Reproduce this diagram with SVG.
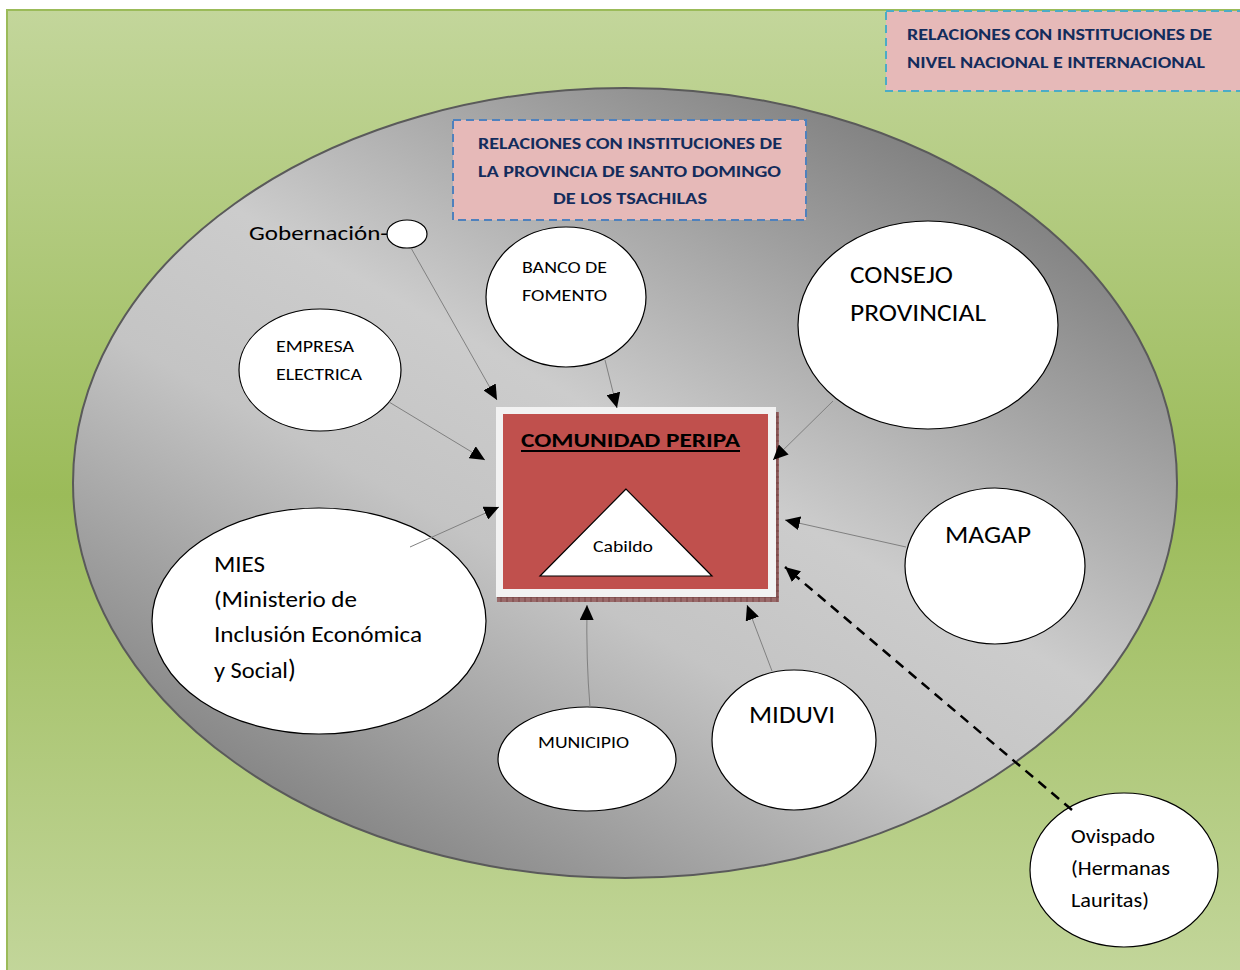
<svg xmlns="http://www.w3.org/2000/svg" width="1240" height="970" viewBox="0 0 1240 970">
<defs>
<linearGradient id="bgGreen" x1="0" y1="0" x2="0" y2="1">
<stop offset="0" stop-color="#c3d69b"/>
<stop offset="0.5" stop-color="#9bbb59"/>
<stop offset="1" stop-color="#c3d69b"/>
</linearGradient>
<linearGradient id="grayGrad" x1="0.85" y1="0.05" x2="0.15" y2="0.95">
<stop offset="0" stop-color="#767676"/>
<stop offset="0.45" stop-color="#cccccc"/>
<stop offset="0.62" stop-color="#c4c4c4"/>
<stop offset="1" stop-color="#7c7c7c"/>
</linearGradient>
<pattern id="hatch" width="6" height="6" patternUnits="userSpaceOnUse">
<rect width="6" height="6" fill="#9a6a6a"/>
<path d="M0 3H6M3 0V6" stroke="#6e3a3a" stroke-width="0.8"/>
</pattern>
<marker id="arr" markerUnits="userSpaceOnUse" markerWidth="16" markerHeight="14" refX="15" refY="7" orient="auto">
<path d="M0 0L15 7L0 14Z" fill="#000"/>
</marker>
<style>
.t{font-family:Carlito,"Open Sans","Liberation Sans",sans-serif;fill:#000}
.hd{font-family:Carlito,"Open Sans","Liberation Sans",sans-serif;font-weight:bold;fill:#132c5c;font-size:16.5px}
.node{fill:#fff;stroke:#000;stroke-width:1.2}
.conn{stroke:#808080;stroke-width:1;fill:none;marker-end:url(#arr)}
.dash{stroke:#000;stroke-width:2.5;fill:none;stroke-dasharray:10 7;marker-end:url(#arr)}
</style>
</defs>

<rect x="7" y="10" width="1240" height="970" fill="url(#bgGreen)" stroke="#9bbb59" stroke-width="2"/>

<g id="top-title">
<rect x="886" y="11" width="360" height="80" fill="#e6b9b8" stroke="#4bacc6" stroke-width="2" stroke-dasharray="8 5"/>
<text class="hd" x="907" y="40" textLength="305" lengthAdjust="spacingAndGlyphs">RELACIONES CON INSTITUCIONES DE</text>
<text class="hd" x="907" y="68" textLength="298" lengthAdjust="spacingAndGlyphs">NIVEL NACIONAL E INTERNACIONAL</text>
</g>

<ellipse id="province" cx="625" cy="483" rx="552" ry="395" fill="url(#grayGrad)" stroke="#5a5a5a" stroke-width="2"/>

<g id="province-title">
<rect x="453" y="120" width="353" height="100" fill="#e6b9b8" stroke="#4f81bd" stroke-width="2" stroke-dasharray="8 5"/>
<text class="hd" x="478" y="149" textLength="304" lengthAdjust="spacingAndGlyphs">RELACIONES CON INSTITUCIONES DE</text>
<text class="hd" x="478" y="177" textLength="303" lengthAdjust="spacingAndGlyphs">LA PROVINCIA DE SANTO DOMINGO</text>
<text class="hd" x="553" y="204" textLength="154" lengthAdjust="spacingAndGlyphs">DE LOS TSACHILAS</text>
</g>

<g id="comunidad">
<rect x="776" y="412" width="3" height="190" fill="url(#hatch)"/>
<rect x="497" y="597" width="282" height="5" fill="url(#hatch)"/>
<rect x="496" y="407" width="280" height="190" fill="#f2f2f2"/>
<rect x="503" y="414" width="265" height="175" fill="#c0504d"/>
<text class="t" x="521" y="447" font-size="20" font-weight="bold" textLength="219" lengthAdjust="spacingAndGlyphs">COMUNIDAD PERIPA</text>
<line x1="521" y1="451" x2="740" y2="451" stroke="#000" stroke-width="2"/>
</g>

<g id="cabildo">
<polygon points="626,489 540,576 712,576" fill="#fff" stroke="#000" stroke-width="1.2"/>
<text class="t" x="593" y="552" font-size="16" textLength="60" lengthAdjust="spacingAndGlyphs">Cabildo</text>
</g>

<g id="gobernacion">
<ellipse class="node" cx="407" cy="234" rx="20" ry="14"/>
<text class="t" x="249" y="240" font-size="20" textLength="139" lengthAdjust="spacingAndGlyphs">Gobernación-</text>
</g>

<g id="empresa-electrica">
<ellipse class="node" cx="320" cy="370" rx="81" ry="61"/>
<text class="t" x="276" y="352" font-size="16" textLength="78" lengthAdjust="spacingAndGlyphs">EMPRESA</text>
<text class="t" x="276" y="380" font-size="16" textLength="86" lengthAdjust="spacingAndGlyphs">ELECTRICA</text>
</g>

<g id="banco-fomento">
<ellipse class="node" cx="566" cy="297" rx="80" ry="70"/>
<text class="t" x="522" y="273" font-size="16" textLength="85" lengthAdjust="spacingAndGlyphs">BANCO DE</text>
<text class="t" x="522" y="301" font-size="16" textLength="85" lengthAdjust="spacingAndGlyphs">FOMENTO</text>
</g>

<g id="consejo-provincial">
<ellipse class="node" cx="928" cy="325" rx="130" ry="104"/>
<text class="t" x="850" y="283" font-size="24" textLength="103" lengthAdjust="spacingAndGlyphs">CONSEJO</text>
<text class="t" x="850" y="321" font-size="24" textLength="136" lengthAdjust="spacingAndGlyphs">PROVINCIAL</text>
</g>

<g id="magap">
<ellipse class="node" cx="995" cy="566" rx="90" ry="78"/>
<text class="t" x="945" y="543" font-size="24" textLength="86" lengthAdjust="spacingAndGlyphs">MAGAP</text>
</g>

<g id="mies">
<ellipse class="node" cx="319" cy="621" rx="167" ry="113"/>
<text class="t" x="214" y="572" font-size="22" textLength="51" lengthAdjust="spacingAndGlyphs">MIES</text>
<text class="t" x="214" y="607" font-size="22" textLength="143" lengthAdjust="spacingAndGlyphs">(Ministerio de</text>
<text class="t" x="214" y="642" font-size="22" textLength="208" lengthAdjust="spacingAndGlyphs">Inclusión Económica</text>
<text class="t" x="214" y="678" font-size="22"><tspan textLength="74" lengthAdjust="spacingAndGlyphs">y Social</tspan><tspan font-size="26">)</tspan></text>
</g>

<g id="municipio">
<ellipse class="node" cx="587" cy="759" rx="89" ry="52"/>
<text class="t" x="538" y="748" font-size="16" textLength="91" lengthAdjust="spacingAndGlyphs">MUNICIPIO</text>
</g>

<g id="miduvi">
<ellipse class="node" cx="794" cy="740" rx="82" ry="70"/>
<text class="t" x="749" y="723" font-size="24" textLength="86" lengthAdjust="spacingAndGlyphs">MIDUVI</text>
</g>

<g id="ovispado">
<ellipse class="node" cx="1124" cy="870" rx="94" ry="77"/>
<text class="t" x="1071" y="843" font-size="20" textLength="84" lengthAdjust="spacingAndGlyphs">Ovispado</text>
<text class="t" x="1071" y="875" font-size="20" textLength="99" lengthAdjust="spacingAndGlyphs">(Hermanas</text>
<text class="t" x="1071" y="907" font-size="20" textLength="78" lengthAdjust="spacingAndGlyphs">Lauritas)</text>
</g>

<g id="connectors">
<line class="conn" x1="411" y1="248" x2="497" y2="400"/>
<line class="conn" x1="389" y1="402" x2="485" y2="460"/>
<line class="conn" x1="605" y1="360" x2="617" y2="408"/>
<line class="conn" x1="833" y1="401" x2="773" y2="460"/>
<line class="conn" x1="906" y1="547" x2="785" y2="520"/>
<line class="conn" x1="410" y1="547" x2="499" y2="507"/>
<path class="conn" d="M590 707Q586 660 587 605"/>
<line class="conn" x1="772" y1="671" x2="747" y2="605"/>
<line class="dash" x1="1072" y1="810" x2="785" y2="567"/>
</g>
</svg>
